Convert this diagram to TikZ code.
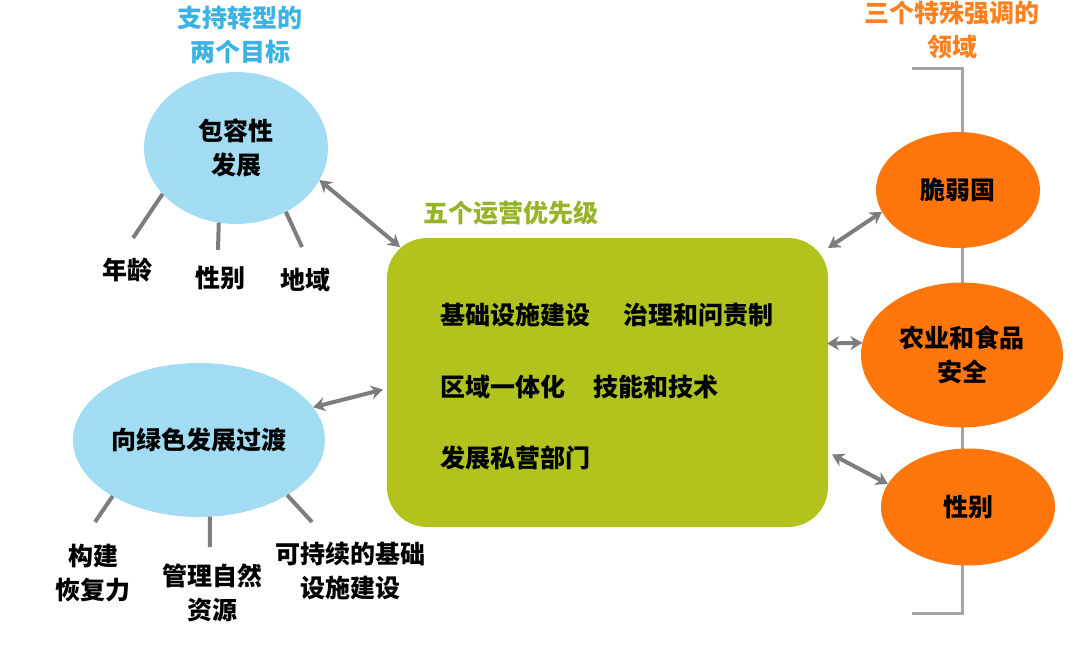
\documentclass[tikz,border=0pt]{standalone}
\usepackage{fontspec}
\setmainfont{Noto Sans CJK SC}
\usepackage{tikz}
\usetikzlibrary{shapes.geometric,arrows.meta,positioning,calc}
\usepackage{xcolor}
\definecolor{goalblue}{RGB}{162,220,242}
\definecolor{goaltitle}{RGB}{58,178,228}
\definecolor{prioGreen}{RGB}{178,195,30}
\definecolor{priotitle}{RGB}{150,180,40}
\definecolor{focusorange}{RGB}{255,118,12}
\definecolor{focustitle}{RGB}{255,128,30}
\definecolor{arrowgray}{RGB}{125,125,125}
\definecolor{bracketgray}{RGB}{165,165,165}

\begin{document}
\begin{tikzpicture}[
    x=0.5pt, y=-0.5pt,
    every node/.style={font=\fontsize{12.5}{17}\selectfont\bfseries, align=center, inner sep=0pt, outer sep=0pt},
    goal/.style={ellipse, fill=goalblue},
    focus/.style={ellipse, fill=focusorange},
    prio/.style={rectangle, fill=prioGreen, rounded corners=20pt,
        minimum width=220.5pt, minimum height=144.5pt},
    item/.style={anchor=west},
    arr/.style={{Stealth[length=6pt,width=7pt]}-{Stealth[length=6pt,width=7pt]}, line width=2pt, arrowgray},
    spoke/.style={line width=2pt, arrowgray}
]
    \useasboundingbox (0,0) rectangle (1080,647);

    % Bracket behind the focus areas
    \coordinate (brtopL) at (912,69);
    \coordinate (brtop) at (962,69);
    \coordinate (brbot) at (962,613);
    \coordinate (brbotL) at (912,613);
    \draw[line width=1.5pt, bracketgray] (brtopL) -- (brtop) -- (brbot) -- (brbotL);

    % Titles
    \node[text=goaltitle] (goaltitle) at (240,35) {支持转型的\\两个目标};
    \node[text=priotitle, anchor=west] (priotitle) at (423,213) {五个运营优先级};
    \node[text=focustitle] (focustitle) at (952,30) {三个特殊强调的\\领域};

    % Two goals
    \node[goal, minimum width=92pt, minimum height=76pt] (incl) at (236,148) {包容性\\发展};
    \node[goal, minimum width=126pt, minimum height=77pt] (green) at (199,440) {向绿色发展过渡};

    % Five priorities
    \node[prio] (box) at (607.5,382.5) {};
    \node[item] (infra) at (440,315) {基础设施建设};
    \node[item] (gov) at (623,315) {治理和问责制};
    \node[item] (regint) at (440,387) {区域一体化};
    \node[item] (skills) at (593,387) {技能和技术};
    \node[item] (private) at (440,458) {发展私营部门};

    % Three focus areas
    \node[focus, minimum width=82pt, minimum height=58pt] (fragile) at (958,190) {脆弱国};
    \node[focus, minimum width=101pt, minimum height=72.5pt] (agri) at (962,355) {农业和食品\\安全};
    \node[focus, minimum width=87pt, minimum height=58.5pt] (gender) at (968,507) {性别};

    % Sub-dimensions of inclusive growth
    \node (age) at (127,270) {年龄};
    \node (sex) at (220,278) {性别};
    \node (region) at (305,280) {地域};
    \coordinate (age-s) at (133,238);
    \coordinate (sex-s) at (218,250);
    \coordinate (region-s) at (302,247);
    \draw[spoke] (incl.-148) -- (age-s);
    \draw[spoke] (incl.-103) -- (sex-s);
    \draw[spoke] (incl.-52) -- (region-s);

    % Sub-dimensions of green growth
    \node (resil) at (93,573) {构建\\恢复力};
    \node (natres) at (212,593) {管理自然\\资源};
    \node (susinf) at (350,571) {可持续的基础\\设施建设};
    \coordinate (resil-s) at (95,522);
    \coordinate (natres-s) at (210,547);
    \coordinate (susinf-s) at (312,522);
    \draw[spoke] (green.-147) -- (resil-s);
    \draw[spoke] (green.-82) -- (natres-s);
    \draw[spoke] (green.-32) -- (susinf-s);

    % Links between goals, priorities and focus areas
    \draw[arr] (incl.-21) -- ($(box.north west)+(13,9)$);
    \draw[arr] (green.16) -- ($(box.west)+(-4,7)$);
    \draw[arr] ($(box.north east)+(0,10)$) -- (fragile.-164.5);
    \draw[arr] ($(box.east)+(-1,-39)$) -- (agri.173);
    \draw[arr] ($(box.east)+(4,72)$) -- (gender.164);
\end{tikzpicture}
\end{document}
